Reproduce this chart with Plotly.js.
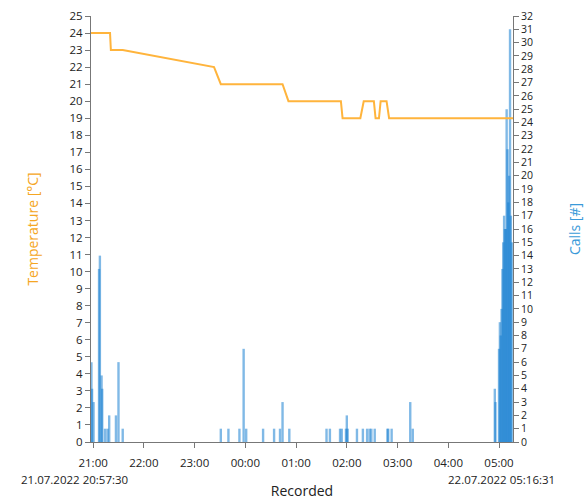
<!DOCTYPE html>
<html>
<head>
<meta charset="utf-8">
<script src="https://cdn.plot.ly/plotly-3.0.1.min.js"></script>
<style>html,body{margin:0;padding:0;background:#fff;}#chart{width:587px;height:500px;}</style>
</head>
<body>
<div id="chart"></div>
<script>
// Temperature readings (°C)
const tempTimes = [
  '2022-07-21 20:57:30','2022-07-21 21:20:00','2022-07-21 21:21:00','2022-07-21 21:35:00',
  '2022-07-21 23:23:00','2022-07-21 23:31:00','2022-07-22 00:44:00','2022-07-22 00:51:00',
  '2022-07-22 01:53:00','2022-07-22 01:55:00','2022-07-22 02:16:00','2022-07-22 02:20:00',
  '2022-07-22 02:32:00','2022-07-22 02:34:00','2022-07-22 02:38:00','2022-07-22 02:40:00',
  '2022-07-22 02:47:00','2022-07-22 02:50:00','2022-07-22 05:16:31'
];
const tempValues = [24,24,23,23,22,21,21,20,20,19,19,20,20,19,19,20,20,19,19];

// Calls (#)
const callTimes = [
  '2022-07-21 20:58:00','2022-07-21 20:58:45','2022-07-21 21:00:30','2022-07-21 21:07:00',
  '2022-07-21 21:08:00','2022-07-21 21:10:00','2022-07-21 21:10:45','2022-07-21 21:14:00',
  '2022-07-21 21:17:00','2022-07-21 21:19:00','2022-07-21 21:27:00','2022-07-21 21:30:00',
  '2022-07-21 21:35:00',
  '2022-07-21 23:31:00','2022-07-21 23:40:00','2022-07-21 23:53:00','2022-07-21 23:58:00',
  '2022-07-22 00:01:00','2022-07-22 00:21:00','2022-07-22 00:34:00','2022-07-22 00:41:00',
  '2022-07-22 00:44:00','2022-07-22 00:52:00','2022-07-22 01:36:00','2022-07-22 01:40:00',
  '2022-07-22 01:52:00','2022-07-22 01:54:00','2022-07-22 01:59:00','2022-07-22 02:00:00',
  '2022-07-22 02:01:00','2022-07-22 02:12:00','2022-07-22 02:19:00','2022-07-22 02:24:00',
  '2022-07-22 02:27:00','2022-07-22 02:29:00','2022-07-22 02:33:00','2022-07-22 02:48:00',
  '2022-07-22 02:49:00','2022-07-22 02:53:00','2022-07-22 03:15:00','2022-07-22 03:18:00',
  '2022-07-22 04:55:00','2022-07-22 04:55:45','2022-07-22 05:00:00','2022-07-22 05:01:00',
  '2022-07-22 05:02:00','2022-07-22 05:03:00','2022-07-22 05:04:00','2022-07-22 05:05:00',
  '2022-07-22 05:06:00','2022-07-22 05:07:00','2022-07-22 05:08:00','2022-07-22 05:09:00',
  '2022-07-22 05:10:00','2022-07-22 05:11:00','2022-07-22 05:12:00','2022-07-22 05:13:00',
  '2022-07-22 05:14:00','2022-07-22 05:15:00'
];
const callValues = [
  6,4,3,13,14,5,4,1,1,2,2,6,1,
  1,1,1,7,1,1,1,1,3,1,1,1,1,1,1,2,1,1,1,1,1,1,1,1,1,1,3,1,
  4,3,7,9,8,10,13,15,17,16,16,25,22,18,20,31,17,15
];

const xStart = '2022-07-21 20:57:30';
const xEnd = '2022-07-22 05:16:31';
const startLabel = '21.07.2022 20:57:30';
const endLabel = '22.07.2022 05:16:31';

const tickFont = {family: 'Open Sans, sans-serif', size: 11.5, color: '#222'};
const rightTickFont = {family: 'Open Sans, sans-serif', size: 10.5, color: '#222'};

const traces = [
  {
    type: 'bar', x: callTimes, y: callValues, yaxis: 'y', xaxis: 'x',
    width: 170000,
    marker: {color: 'rgba(24,128,210,0.55)', line: {width: 0}},
    hoverinfo: 'x+y'
  },
  {
    type: 'scatter', mode: 'lines', x: tempTimes, y: tempValues, yaxis: 'y2', xaxis: 'x',
    line: {color: '#ffb43c', width: 2}
  }
];

const layout = {
  width: 587, height: 500,
  margin: {l: 91, r: 74, t: 16, b: 58},
  paper_bgcolor: '#fff', plot_bgcolor: '#fff',
  showlegend: false,
  barmode: 'overlay',
  font: tickFont,
  xaxis: {
    type: 'date', range: [xStart, xEnd],
    tick0: '2022-07-21 21:00:00', dtick: 3600000, tickformat: '%H:%M',
    ticks: 'outside', ticklen: 5, tickcolor: '#777',
    ticklabelstandoff: 5,
    showline: true, linecolor: '#777', linewidth: 1,
    showgrid: false, zeroline: false,
    tickfont: tickFont,
    title: {text: 'Recorded', font: {family: 'Open Sans, sans-serif', size: 14, color: '#222'}, standoff: 18}
  },
  yaxis: {
    side: 'right', range: [0, 32], dtick: 1,
    ticks: 'outside', ticklen: 5, tickcolor: '#777',
    showline: true, linecolor: '#777', linewidth: 1,
    showgrid: false, zeroline: false,
    tickfont: rightTickFont,
    title: {text: 'Calls [#]', font: {family: 'Open Sans, sans-serif', size: 14, color: '#3a9ad9'}, standoff: 38}
  },
  yaxis2: {
    side: 'left', overlaying: 'y', range: [0, 25], dtick: 1,
    ticks: 'outside', ticklen: 5, tickcolor: '#777',
    showline: true, linecolor: '#777', linewidth: 1,
    showgrid: false, zeroline: false,
    tickfont: tickFont,
    title: {text: 'Temperature [°C]', font: {family: 'Open Sans, sans-serif', size: 14, color: '#f5a623'}, standoff: 27}
  },
  annotations: [
    {xref: 'paper', yref: 'paper', x: 0, y: 0, xshift: -17, yshift: -37, text: startLabel,
     showarrow: false, xanchor: 'center', yanchor: 'middle', font: tickFont},
    {xref: 'paper', yref: 'paper', x: 1, y: 0, xshift: -12, yshift: -37, text: endLabel,
     showarrow: false, xanchor: 'center', yanchor: 'middle', font: tickFont}
  ]
};

Plotly.newPlot('chart', traces, layout, {displayModeBar: false, staticPlot: true});
</script>
</body>
</html>
